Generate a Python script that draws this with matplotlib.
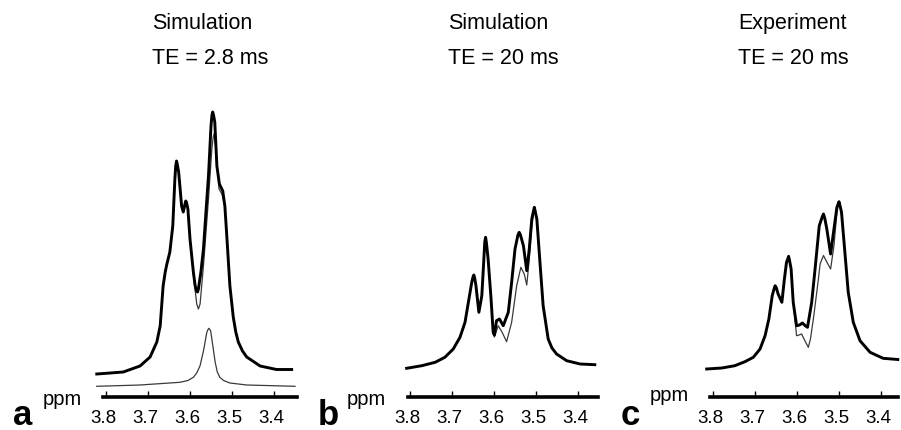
import numpy as np
import matplotlib
matplotlib.use("Agg")
import matplotlib.pyplot as plt
from matplotlib import font_manager
from matplotlib.transforms import ScaledTranslation

# --- data (ppm, intensity in a.u.) ---
ticks = [3.8, 3.7, 3.6, 3.5, 3.4]
tick_labels = ["3.8", "3.7", "3.6", "3.5", "3.4"]
titles = [("Simulation", "TE = 2.8 ms"), ("Simulation", "TE = 20 ms"), ("Experiment", "TE = 20 ms")]
letters = ["a", "b", "c"]

# panel a: thick trace
a_ppm = [3.822, 3.790, 3.759, 3.719, 3.695, 3.679, 3.671, 3.664, 3.659, 3.655, 3.648,
         3.641, 3.636, 3.634, 3.632, 3.630, 3.627, 3.620, 3.616, 3.612, 3.610, 3.608,
         3.605, 3.600, 3.592, 3.588, 3.585, 3.582, 3.580, 3.574, 3.568, 3.562, 3.556,
         3.550, 3.548, 3.546, 3.544, 3.541, 3.536, 3.530, 3.522, 3.517, 3.513, 3.505,
         3.497, 3.491, 3.485, 3.475, 3.465, 3.433, 3.394, 3.358]
a_thick = [23, 24, 25, 31, 40, 55, 71, 111, 125, 133, 145,
           171, 218, 231, 236, 232, 225, 191, 185, 193, 196, 194,
           188, 158, 125, 112, 106, 105, 108, 125, 148, 185, 221,
           271, 281, 285, 282, 275, 231, 213, 206, 191, 165, 111,
           80, 65, 55, 46, 40, 31, 27.5, 27.5]
# panel a: thin trace, only where it leaves the thick one
a_thin_ppm = [3.592, 3.584, 3.580, 3.576, 3.568, 3.556, 3.548, 3.545, 3.543, 3.540,
              3.536, 3.531, 3.524, 3.519]
a_thin = [123, 93, 88, 93, 131, 198, 248, 259, 263, 255,
          238, 208, 203, 194]
# panel a: single resonance below
a_single_ppm = [3.822, 3.719, 3.624, 3.605, 3.592, 3.584, 3.576, 3.567, 3.560, 3.557,
                3.555, 3.551, 3.548, 3.540, 3.535, 3.529, 3.520, 3.505, 3.465, 3.350]
a_single = [10.7, 12, 14.7, 16.5, 19.7, 24, 31.3, 48, 64.7, 67.5,
            68.7, 66.5, 58, 34.7, 25, 19.7, 16.5, 14, 12, 10.7]

# panel b
b_ppm = [3.808, 3.772, 3.740, 3.717, 3.697, 3.681, 3.669, 3.661, 3.653, 3.650, 3.648,
         3.646, 3.643, 3.636, 3.629, 3.625, 3.622, 3.620, 3.618, 3.614, 3.607, 3.602,
         3.599, 3.594, 3.587, 3.578, 3.566, 3.558, 3.550, 3.543, 3.540, 3.537, 3.530,
         3.522, 3.516, 3.510, 3.506, 3.504, 3.502, 3.498, 3.490, 3.483, 3.471, 3.462,
         3.451, 3.427, 3.395, 3.360]
b_thick = [28.7, 31.3, 34.7, 39.7, 48, 59.7, 74.7, 94.7, 114.7, 120, 122,
           119, 111.3, 84.7, 101.3, 131.3, 155, 159.7, 154, 138, 98, 64.7,
           62, 76.3, 78, 71.3, 84.7, 114.7, 148, 162, 164.7, 162, 151.3,
           126.3, 148, 178, 186, 189.7, 186, 178, 131.3, 91.3, 58, 49,
           43, 36.3, 33, 32.3]
b_thin_ppm = [3.602, 3.599, 3.590, 3.581, 3.570, 3.558, 3.546, 3.536, 3.528, 3.522,
              3.516, 3.510, 3.504]
b_thin = [63, 60, 71.3, 65, 55.3, 74.7, 111.3, 129.7, 123, 112,
          138, 171.3, 188]

# panel c
c_ppm = [3.815, 3.779, 3.748, 3.724, 3.704, 3.688, 3.676, 3.667, 3.659, 3.654, 3.652,
         3.649, 3.645, 3.636, 3.630, 3.625, 3.622, 3.620, 3.618, 3.614, 3.609, 3.601,
         3.594, 3.587, 3.581, 3.575, 3.565, 3.557, 3.547, 3.540, 3.537, 3.534, 3.529,
         3.520, 3.512, 3.505, 3.502, 3.500, 3.498, 3.494, 3.486, 3.478, 3.466, 3.450,
         3.426, 3.395, 3.360]
c_thick = [28, 29, 31.3, 35.3, 39.7, 48, 61.3, 78, 101.3, 109, 111.3,
           109, 103, 94.7, 118, 134.7, 138, 140.7, 137, 128, 94.7, 71.3,
           72, 74, 71.5, 69.7, 94.7, 128, 171.3, 180, 183, 179, 168,
           143, 168, 189.7, 193, 195.3, 192, 184.7, 144.7, 104.7, 74.7, 56.3,
           44.7, 38.7, 37.5]
c_thin_ppm = [3.601, 3.595, 3.589, 3.581, 3.573, 3.568, 3.561, 3.549, 3.545, 3.537,
              3.529, 3.520, 3.512, 3.505]
c_thin = [61.3, 62, 63, 56, 49.7, 58, 78, 118, 133, 141.5,
          135, 128, 151.3, 184.7]


def splice(x, y, dx, dy):
    """Thin trace = thick trace outside the range where it departs, own points inside."""
    x = np.asarray(x)
    y = np.asarray(y)
    lo, hi = min(dx), max(dx)
    left = x > hi
    right = x < lo
    xs = np.concatenate([x[left], dx, x[right]])
    ys = np.concatenate([y[left], dy, y[right]])
    return xs, ys


names = {f.name for f in font_manager.fontManager.ttflist}
plt.rcParams["font.family"] = ["Liberation Sans", "DejaVu Sans"]
if "Liberation Sans Narrow" in names:
    tick_font = dict(family="Liberation Sans Narrow", size=14.5)
else:
    tick_font = dict(family="Liberation Sans", size=13.5)

W, H = 901, 431
fig = plt.figure(figsize=(W / 100, H / 100), dpi=100)

PX_PER_PPM = 420
# (left px, right px, px of 3.8, spine start px, spine end px)
frames = [(95, 300, 106, 103, 297), (400, 600, 410, 408, 598), (703, 901, 713, 710, 898)]
AX_TOP, AX_BOT = 95, 398

series = [
    (a_ppm, a_thick, a_thin_ppm, a_thin),
    (b_ppm, b_thick, b_thin_ppm, b_thin),
    (c_ppm, c_thick, c_thin_ppm, c_thin),
]

for i, ((L, R, x38, s0, s1), (px, thick, tpx, thin)) in enumerate(zip(frames, series)):
    ax = fig.add_axes([L / W, (H - AX_BOT) / H, (R - L) / W, (AX_BOT - AX_TOP) / H])
    to_ppm = lambda p: 3.8 - (p - x38) / PX_PER_PPM
    ax.set_xlim(to_ppm(L), to_ppm(R))
    ax.set_ylim(0, AX_BOT - AX_TOP)

    tx, ty = splice(px, thick, tpx, thin)
    ax.plot(tx, ty, color="#3a3a3a", lw=0.9, zorder=2, solid_joinstyle="round")
    ax.plot(px, thick, color="black", lw=2.1, zorder=3, solid_joinstyle="round")
    if i == 0:
        ax.plot(a_single_ppm, a_single, color="#3a3a3a", lw=0.9, zorder=2,
                solid_joinstyle="round")

    for side in ["top", "left", "right"]:
        ax.spines[side].set_visible(False)
    ax.spines["bottom"].set_linewidth(2.6)
    ax.spines["bottom"].set_bounds(to_ppm(s0), to_ppm(s1))
    ax.set_yticks([])
    ax.set_xticks(ticks)
    ax.set_xticklabels(tick_labels, **tick_font)
    ax.tick_params(axis="x", direction="in", length=4.5, width=1.0, pad=9)
    ax.patch.set_visible(False)
    for lab in ax.get_xticklabels():
        lab.set_transform(lab.get_transform() + ScaledTranslation(-3 / 100, 0, fig.dpi_scale_trans))

# titles
title_x = [152, 448, 738]
for tx_, (t1, t2) in zip(title_x, titles):
    fig.text(tx_ / W, 1 - 29 / H, t1, fontsize=15.5, va="baseline", ha="left")
    fig.text(tx_ / W, 1 - 64 / H, t2, fontsize=15.5, va="baseline", ha="left")

# panel letters and ppm labels
letter_x = [13, 318, 621]
ppm_pos = [(43, 405), (347, 405), (650, 401)]
for lx, (ppx, ppy), let in zip(letter_x, ppm_pos, letters):
    fig.text(lx / W, 1 - 425 / H, let, fontsize=25, fontweight="bold", va="baseline", ha="left")
    fig.text(ppx / W, 1 - ppy / H, "ppm", fontsize=14.5, va="baseline", ha="left")

fig.savefig("out.png", dpi=100)
